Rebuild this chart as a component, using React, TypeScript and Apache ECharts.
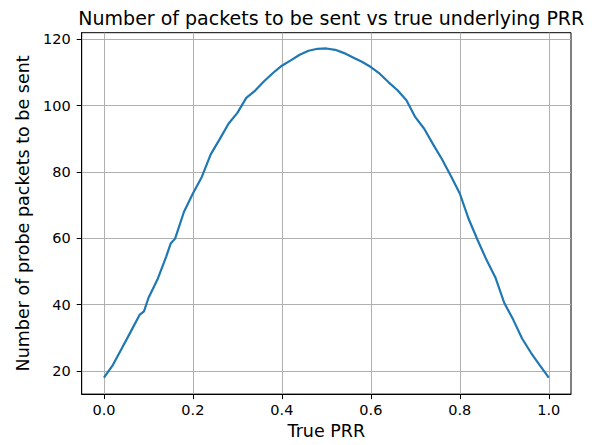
import React, { useEffect, useRef } from "react";
import * as echarts from "echarts";

const prr = [
  0.0, 0.02, 0.04, 0.06, 0.08, 0.09, 0.1, 0.12, 0.14, 0.15, 0.16, 0.18, 0.2,
  0.22, 0.24, 0.26, 0.28, 0.3, 0.32, 0.34, 0.36, 0.38, 0.4, 0.42, 0.44, 0.46,
  0.48, 0.5, 0.52, 0.54, 0.56, 0.58, 0.6, 0.62, 0.64, 0.66, 0.68, 0.7, 0.72,
  0.74, 0.76, 0.78, 0.8, 0.82, 0.84, 0.86, 0.88, 0.9, 0.92, 0.94, 0.96, 0.98,
  1.0,
];
const packets = [
  18.0, 21.8, 26.8, 31.8, 36.9, 38.0, 42.0, 47.5, 54.5, 58.4, 59.9, 68.0, 73.5,
  78.5, 85.3, 89.8, 94.5, 97.8, 102.3, 104.5, 107.3, 109.8, 112.0, 113.6, 115.3,
  116.5, 117.1, 117.2, 116.8, 115.8, 114.5, 113.2, 111.6, 109.6, 107.0, 104.6,
  101.6, 96.5, 93.0, 88.3, 83.8, 78.8, 73.5, 65.8, 59.5, 53.5, 48.2, 40.5, 35.5,
  29.8, 25.5, 21.7, 18.0,
];
const xTicks = [0, 0.2, 0.4, 0.6, 0.8, 1.0];
const yTicks = [20, 40, 60, 80, 100, 120];

const titleText = "Number of packets to be sent vs true underlying PRR";
const xName = "True PRR";
const yName = "Number of probe packets to be sent";

export default function App() {
  const ref = useRef<HTMLDivElement>(null);
  useEffect(() => {
    if (!ref.current) return;
    const chart = echarts.init(ref.current, null, { renderer: "svg" });
    const font = "DejaVu Sans";
    const data = prr.map((x, i) => [x, packets[i]]);
    chart.setOption({
      animation: false,
      backgroundColor: "#ffffff",
      title: {
        text: titleText,
        left: 326.3,
        textAlign: "center",
        top: 3,
        textStyle: {
          fontFamily: font,
          fontSize: 19,
          fontWeight: "normal",
          color: "#000",
        },
      },
      grid: {
        left: 81.7,
        right: 25,
        top: 32.7,
        bottom: 48.3,
        show: true,
        borderColor: "#000",
        borderWidth: 1,
        backgroundColor: "transparent",
      },
      xAxis: {
        type: "value",
        min: -0.05,
        max: 1.05,
        name: xName,
        nameLocation: "middle",
        nameGap: 26,
        nameTextStyle: { fontFamily: font, fontSize: 17.5, color: "#000" },
        axisLine: { show: true, onZero: false, lineStyle: { color: "#000", width: 1 } },
        axisTick: {
          show: true,
          inside: false,
          length: 5,
          customValues: xTicks,
          lineStyle: { color: "#000", width: 1 },
        },
        axisLabel: {
          customValues: xTicks,
          margin: 8,
          fontFamily: font,
          fontSize: 14.5,
          color: "#000",
          formatter: (v: number) => v.toFixed(1),
        },
        splitLine: { show: true, lineStyle: { color: "#b0b0b0", width: 1 } },
      },
      yAxis: {
        type: "value",
        min: 13.05,
        max: 121.95,
        name: yName,
        nameLocation: "middle",
        nameGap: 49,
        nameTextStyle: { fontFamily: font, fontSize: 17.5, color: "#000" },
        axisLine: { show: true, onZero: false, lineStyle: { color: "#000", width: 1 } },
        axisTick: {
          show: true,
          inside: false,
          length: 5,
          customValues: yTicks,
          lineStyle: { color: "#000", width: 1 },
        },
        axisLabel: {
          customValues: yTicks,
          margin: 11,
          fontFamily: font,
          fontSize: 14.5,
          color: "#000",
          formatter: (v: number) => String(Math.round(v)),
        },
        splitLine: { show: true, lineStyle: { color: "#b0b0b0", width: 1 } },
      },
      series: [
        {
          type: "line",
          data,
          showSymbol: false,
          symbol: "none",
          lineStyle: { color: "#1f77b4", width: 2.2 },
          itemStyle: { color: "#1f77b4" },
        },
      ],
    });
    return () => chart.dispose();
  }, []);
  return (
    <div
      ref={ref}
      style={{ position: "fixed", left: 0, top: 0, width: 596, height: 445 }}
    />
  );
}
